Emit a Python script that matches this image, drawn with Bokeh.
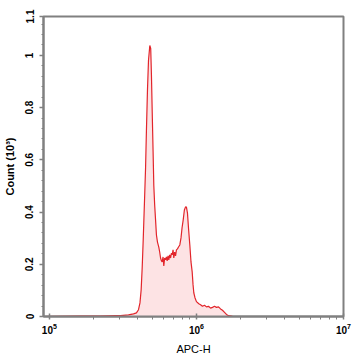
from bokeh.plotting import figure
from bokeh.models import Range1d, FixedTicker, CustomJSTickFormatter, ColumnDataSource, LogTickFormatter
from bokeh.embed import file_html
from bokeh.resources import INLINE

# Histogram: log10(APC-H) and count (x10^3)
log10_apc_h = [4.960, 5.076, 5.212, 5.348, 5.450, 5.484, 5.538, 5.572, 5.592, 5.606,
               5.616, 5.624, 5.631, 5.638, 5.647, 5.654, 5.660, 5.667, 5.674, 5.683,
               5.689, 5.694, 5.699, 5.705, 5.710, 5.716, 5.722, 5.728, 5.735, 5.744,
               5.750, 5.756, 5.762, 5.767, 5.773, 5.778, 5.784, 5.790, 5.796, 5.801,
               5.807, 5.812, 5.818, 5.824, 5.830, 5.835, 5.841, 5.846, 5.852, 5.858,
               5.864, 5.871, 5.878, 5.887, 5.895, 5.902, 5.910, 5.918, 5.926, 5.932,
               5.939, 5.946, 5.955, 5.963, 5.971, 5.977, 5.982, 5.990, 6.000, 6.016,
               6.028, 6.041, 6.055, 6.068, 6.082, 6.096, 6.109, 6.123, 6.136, 6.150,
               6.164, 6.177, 6.191, 6.204, 6.218, 6.245, 6.436, 6.708, 7.000]
count_k = [0.000, 0.001, 0.002, 0.002, 0.003, 0.003, 0.006, 0.010, 0.014, 0.026,
           0.052, 0.102, 0.186, 0.293, 0.446, 0.568, 0.714, 0.867, 0.981, 1.038,
           1.027, 0.924, 0.790, 0.637, 0.503, 0.427, 0.370, 0.312, 0.285, 0.266,
           0.247, 0.224, 0.213, 0.209, 0.228, 0.194, 0.224, 0.217, 0.228, 0.213,
           0.232, 0.217, 0.236, 0.224, 0.243, 0.236, 0.255, 0.224, 0.247, 0.232,
           0.255, 0.259, 0.266, 0.274, 0.301, 0.339, 0.370, 0.408, 0.420, 0.419,
           0.396, 0.339, 0.274, 0.209, 0.171, 0.121, 0.091, 0.072, 0.057, 0.049,
           0.045, 0.039, 0.043, 0.037, 0.039, 0.032, 0.035, 0.039, 0.035, 0.037,
           0.029, 0.024, 0.016, 0.008, 0.003, 0.001, 0.000, 0.000, 0.000]

x_major = [1e5, 1e6, 1e7]
x_minor = [k * 1e5 for k in range(2, 10)] + [k * 1e6 for k in range(2, 10)]
y_major = [0, 0.2, 0.4, 0.6, 0.8, 1.0, 1.149]
y_minor = [0.04, 0.08, 0.12, 0.16, 0.24, 0.28, 0.32, 0.36, 0.44, 0.48, 0.52, 0.56,
           0.64, 0.68, 0.72, 0.76, 0.84, 0.88, 0.92, 0.96, 1.04, 1.08, 1.12]

src = ColumnDataSource(dict(x=[10 ** v for v in log10_apc_h], y=count_k,
                            y0=[0] * len(count_k)))

p = figure(width=355, height=358, x_axis_type="log",
           x_range=Range1d(10 ** 4.96, 1e7), y_range=Range1d(0, 1.149),
           output_backend="svg", toolbar_location=None,
           min_border_left=43, min_border_right=12, min_border_top=16, min_border_bottom=42)

p.varea(x="x", y1="y0", y2="y", source=src, fill_color="#fde3e4", fill_alpha=1.0)
p.line(x="x", y="y", source=src, line_color="#e2252b", line_width=1.2)

p.grid.visible = False
p.outline_line_color = "#808080"
p.outline_line_width = 2
p.background_fill_color = "white"
p.border_fill_color = "white"

GRAY = "#808080"
for ax in (p.xaxis[0], p.yaxis[0]):
    ax.axis_line_color = GRAY
    ax.axis_line_width = 2
    ax.major_tick_line_color = GRAY
    ax.minor_tick_line_color = GRAY
    ax.major_tick_line_width = 1.5
    ax.minor_tick_line_width = 1
    ax.major_label_text_font = "Liberation Sans"
    ax.major_label_text_font_style = "bold"
    ax.major_label_text_font_size = "10px"
    ax.major_label_text_color = "black"
    ax.axis_label_text_font = "Liberation Sans"
    ax.axis_label_text_font_size = "11px"
    ax.axis_label_text_color = "black"

xa = p.xaxis[0]
xa.ticker = FixedTicker(ticks=x_major, minor_ticks=x_minor)
xa.formatter = LogTickFormatter()
xa.major_tick_in = 3
xa.major_tick_out = 3
xa.minor_tick_in = 0
xa.minor_tick_out = 3
xa.major_label_standoff = 3
xa.axis_label = "APC-H"
xa.axis_label_text_font_style = "normal"
xa.axis_label_standoff = 6

ya = p.yaxis[0]
ya.ticker = FixedTicker(ticks=y_major, minor_ticks=y_minor)
ya.formatter = CustomJSTickFormatter(code="""
if (tick > 1.1) return "1.1";
return String(Math.round(tick * 10) / 10);
""")
ya.major_label_orientation = "vertical"
ya.major_tick_in = 0
ya.major_tick_out = 4
ya.minor_tick_in = 0
ya.minor_tick_out = 2
ya.major_label_standoff = 6
ya.axis_label = "Count (10\u00b3)"
ya.axis_label_text_font_style = "bold"
ya.axis_label_standoff = 7

open("out.html", "w").write(file_html(p, INLINE))
